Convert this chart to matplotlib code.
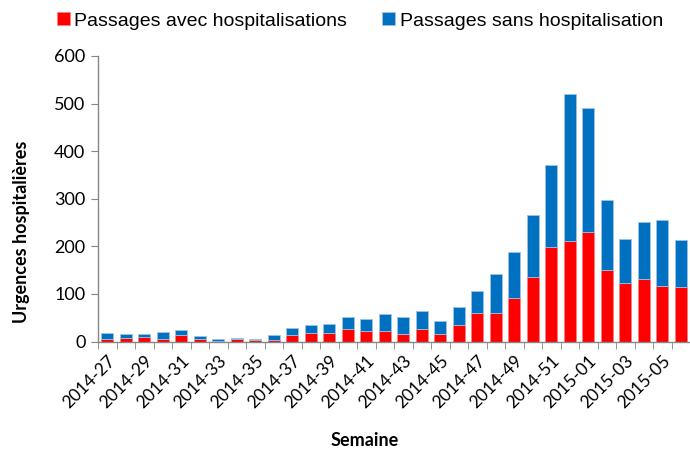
import matplotlib
matplotlib.use("Agg")
import matplotlib.pyplot as plt
import numpy as np

weeks = [f"2014-{w}" for w in range(27, 53)] + [f"2015-{w:02d}" for w in range(1, 7)]
avec = [5, 7, 9, 5, 13, 5, 1, 5, 3, 4, 14, 18, 17, 26, 23, 23, 15, 27, 15, 35,
        59, 59, 91, 136, 198, 211, 231, 150, 123, 132, 116, 114]
total = [17, 15, 15, 19, 25, 11, 5, 7, 5, 13, 28, 35, 37, 51, 47, 57, 51, 65, 43, 72,
         107, 142, 188, 265, 370, 521, 491, 297, 215, 251, 255, 213]
sans = [t - a for t, a in zip(total, avec)]

RED = "#FF0000"
BLUE = "#0070C0"

fig = plt.figure(figsize=(6.9, 4.5), dpi=100)
ax = fig.add_axes([98 / 690, 1 - 341.5 / 450, 592 / 690, (341.5 - 56) / 450])

x = np.arange(len(weeks))
ax.bar(x, avec, width=0.65, color=RED, edgecolor="#FF8080", linewidth=0.6,
       label="Passages avec hospitalisations")
ax.bar(x, sans, bottom=avec, width=0.65, color=BLUE, edgecolor="#9DC3E6", linewidth=0.6,
       label="Passages sans hospitalisation")

ax.set_xlim(-0.5, len(weeks) - 0.5)
ax.set_ylim(0, 600)
ax.set_yticks(range(0, 601, 100))
ax.tick_params(axis="y", direction="out", length=5, color="#868686", labelsize=13, pad=4)
for lab in ax.get_yticklabels():
    lab.set_fontfamily("Lato")

ax.set_xticks(x[::2])
ax.set_xticklabels(weeks[::2], rotation=45, ha="right", rotation_mode="anchor",
                   fontsize=12.5, fontfamily="Lato")
ax.tick_params(axis="x", which="major", length=0, pad=8)
ax.set_xticks(np.arange(-0.5, len(weeks), 1.0), minor=True)
ax.tick_params(axis="x", which="minor", direction="out", length=5, color="#868686")

for s in ["top", "right"]:
    ax.spines[s].set_visible(False)
for s in ["left", "bottom"]:
    ax.spines[s].set_color("#868686")
    ax.spines[s].set_linewidth(1.0)

fig.text(22 / 690, 1 - 232 / 450, "Urgences hospitalières", rotation=90,
         ha="center", va="center", fontsize=13, fontweight="bold", fontfamily="Lato")
fig.text(365 / 690, 1 - 440 / 450, "Semaine", ha="center", va="center",
         fontsize=13, fontweight="bold", fontfamily="Lato")

leg = fig.legend(loc="center", bbox_to_anchor=(360 / 690, 1 - 21 / 450), ncol=2,
                 frameon=False, handlelength=0.65, handleheight=0.65, handletextpad=0.25,
                 columnspacing=1.8, prop={"family": "Liberation Sans", "size": 14})

fig.savefig("out.png", dpi=100)
